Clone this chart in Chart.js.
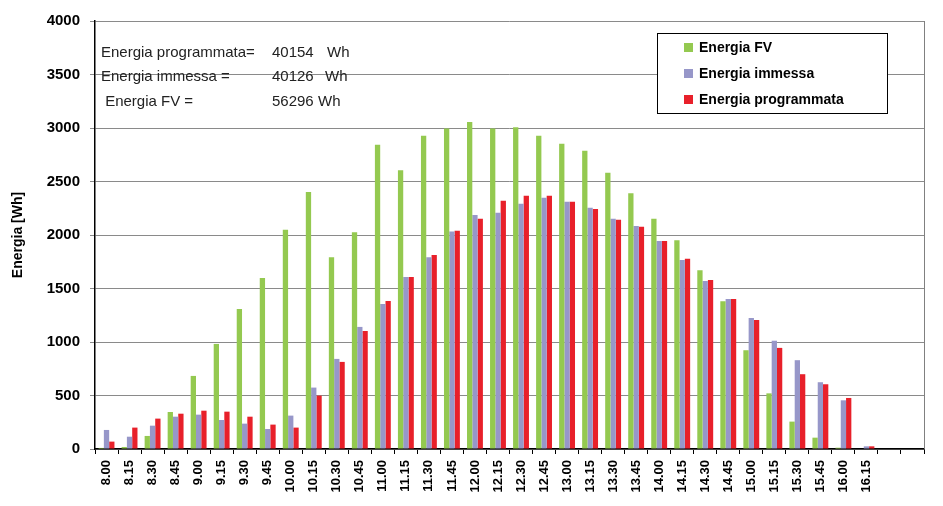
<!DOCTYPE html>
<html>
<head>
<meta charset="utf-8">
<script src="https://cdn.jsdelivr.net/npm/chart.js@4.4.1/dist/chart.umd.min.js"></script>
<style>
  html, body { margin: 0; padding: 0; background: #fff; }
  #wrap { width: 943px; height: 506px; position: relative; }
</style>
</head>
<body>
<div id="wrap"><canvas id="chart"></canvas></div>
<script>
// categorie (quarti d'ora) + due posizioni vuote in fondo
const labels = ['8.00', '8.15', '8.30', '8.45', '9.00', '9.15', '9.30', '9.45',
  '10.00', '10.15', '10.30', '10.45', '11.00', '11.15', '11.30', '11.45',
  '12.00', '12.15', '12.30', '12.45', '13.00', '13.15', '13.30', '13.45',
  '14.00', '14.15', '14.30', '14.45', '15.00', '15.15', '15.30', '15.45',
  '16.00', '16.15', '', ''];

const energiaFV = [10, 19, 122, 346, 683, 982, 1309, 1599, 2048, 2403,
  1792, 2026, 2843, 2606, 2927, 2996, 3055, 2996, 3008, 2927,
  2852, 2787, 2581, 2391, 2151, 1951, 1671, 1381, 923, 520,
  256, 106, 12, 0, null, null];

const energiaImmessa = [178, 115, 218, 302, 321, 271, 237, 187, 312, 574,
  842, 1141, 1356, 1608, 1792, 2032, 2188, 2207, 2291, 2347,
  2310, 2254, 2151, 2085, 1945, 1767, 1571, 1403, 1225, 1012,
  830, 624, 455, 25, null, null];

const energiaProgrammata = [69, 200, 284, 330, 358, 349, 302, 228, 200, 499,
  814, 1103, 1384, 1608, 1814, 2039, 2151, 2319, 2366, 2366,
  2310, 2244, 2142, 2076, 1945, 1777, 1580, 1403, 1206, 945,
  699, 605, 477, 25, null, null];

const yTicks = [0, 500, 1000, 1500, 2000, 2500, 3000, 3500, 4000];

// riquadro riepilogo totali
const totali = [
  ['Energia programmata=', '40154', 'Wh'],
  ['Energia immessa =', '40126', 'Wh'],
  [' Energia FV =', '56296', 'Wh']
];

const colFV = '#94C950';
const colImm = '#9797C9';
const colProg = '#E8202A';

// disegna testi dei totali, legenda e bordo destro
const extras = {
  id: 'extras',
  afterDraw(chart) {
    const ctx = chart.ctx;
    const area = chart.chartArea;
    ctx.save();

    // bordo destro
    ctx.strokeStyle = '#808080';
    ctx.lineWidth = 1;
    ctx.beginPath();
    ctx.moveTo(area.right + 0.5, area.top);
    ctx.lineTo(area.right + 0.5, area.bottom);
    ctx.stroke();

    // totali
    ctx.fillStyle = '#222';
    ctx.font = '15px Arial, "Liberation Sans", sans-serif';
    ctx.textBaseline = 'middle';
    const rowsY = [53, 77, 102];
    const whX = [327, 325, 318];
    totali.forEach((r, i) => {
      ctx.fillText(r[0], 101, rowsY[i]);
      ctx.fillText(r[1], 272, rowsY[i]);
      ctx.fillText(r[2], whX[i], rowsY[i]);
    });

    // legenda
    ctx.fillStyle = '#fff';
    ctx.fillRect(657, 33, 230, 80);
    ctx.strokeStyle = '#000';
    ctx.strokeRect(657.5, 33.5, 230, 80);
    const legY = [47, 73, 99];
    chart.data.datasets.forEach((ds, i) => {
      ctx.fillStyle = ds.backgroundColor;
      ctx.fillRect(684, legY[i] - 4, 9, 9);
      ctx.fillStyle = '#000';
      ctx.font = 'bold 14px Arial, "Liberation Sans", sans-serif';
      ctx.fillText(ds.label, 699, legY[i] + 1);
    });
    ctx.restore();
  }
};

new Chart(document.getElementById('chart'), {
  type: 'bar',
  data: {
    labels: labels,
    datasets: [
      { label: 'Energia FV', data: energiaFV, backgroundColor: colFV },
      { label: 'Energia immessa', data: energiaImmessa, backgroundColor: colImm },
      { label: 'Energia programmata', data: energiaProgrammata, backgroundColor: colProg }
    ]
  },
  options: {
    responsive: true,
    maintainAspectRatio: false,
    animation: false,
    layout: { padding: { top: 21, right: 19, left: 0, bottom: 0 } },
    datasets: { bar: { categoryPercentage: 0.69, barPercentage: 1.0 } },
    plugins: { legend: { display: false }, tooltip: { enabled: false } },
    scales: {
      x: {
        grid: { display: true, drawOnChartArea: false, drawTicks: true, tickLength: 5, color: '#000', offset: true },
        border: { color: '#000', width: 1.5 },
        ticks: {
          color: '#000', autoSkip: false, maxRotation: 90, minRotation: 90, padding: 6,
          font: { family: 'Arial, "Liberation Sans", sans-serif', size: 13, weight: 'bold' }
        },
        afterFit(scale) { scale.height = 57; }
      },
      y: {
        min: 0, max: 4000,
        afterBuildTicks(scale) { scale.ticks = yTicks.map(v => ({ value: v })); },
        grid: { color: '#8a8a8a', tickColor: '#8a8a8a', tickLength: 5 },
        border: { color: '#000', width: 1.5 },
        ticks: {
          color: '#000', padding: 10,
          callback: v => String(v),
          font: { family: 'Arial, "Liberation Sans", sans-serif', size: 15, weight: 'bold' }
        },
        title: {
          display: true, text: 'Energia [Wh]', color: '#000', padding: { top: 10, bottom: 0 },
          font: { family: 'Arial, "Liberation Sans", sans-serif', size: 14, weight: 'bold' }
        },
        afterFit(scale) { scale.width = 95; }
      }
    }
  },
  plugins: [extras]
});
</script>
</body>
</html>
